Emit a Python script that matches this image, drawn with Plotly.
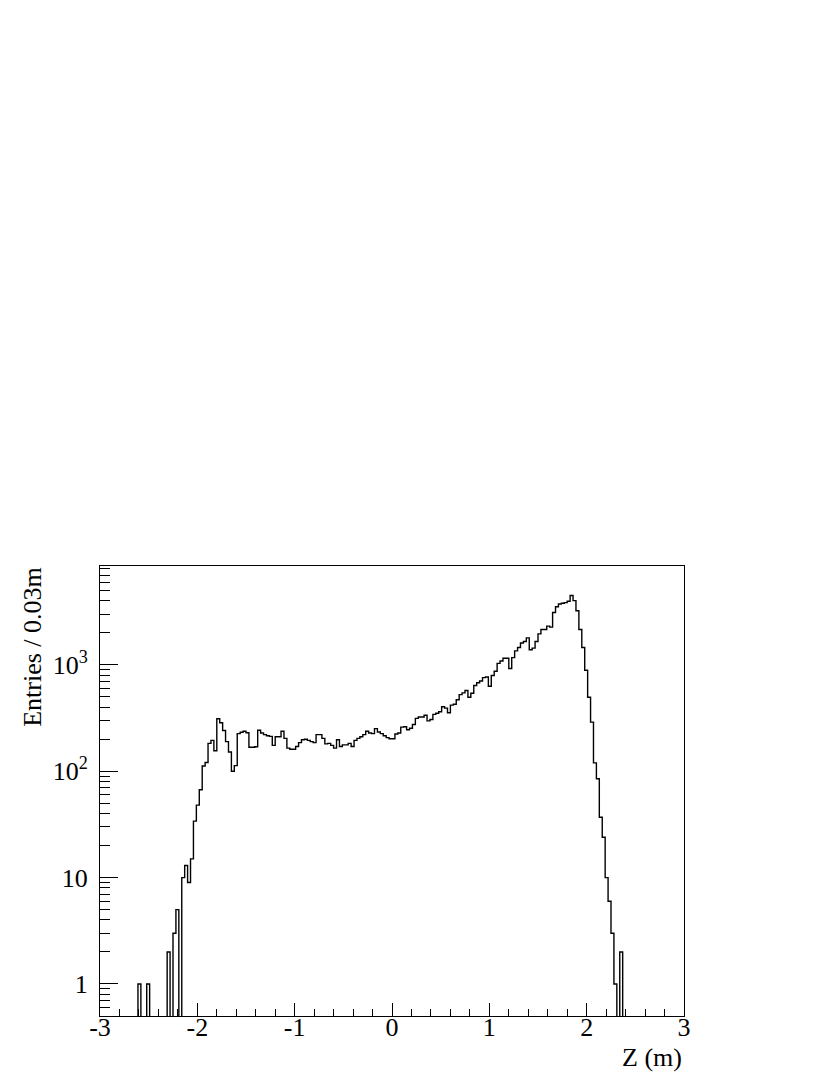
import plotly.graph_objects as go

# histogram binning: 200 bins of 0.03 m between -3 and 3
x_low = -3.0
bin_width = 0.03
n_bins = 200
first_bin = 13  # index of the first non-empty bin

# entries per bin (bins first_bin .. 178)
counts = [
    1, 0, 0, 1, 0, 0, 0, 0, 0, 0, 2, 0, 3, 5, 0, 10, 13, 9, 15, 34,
    48, 67, 112, 121, 183, 195, 156, 312, 286, 242, 190, 152, 100, 113, 226, 233,
    238, 230, 168, 168, 170, 243, 229, 221, 216, 213, 175, 211, 211, 238, 204, 165,
    161, 161, 171, 186, 198, 200, 195, 190, 186, 221, 221, 204, 181, 183, 175, 165,
    198, 171, 177, 177, 183, 171, 195, 204, 211, 221, 238, 229, 226, 252, 234, 226,
    216, 207, 202, 202, 224, 229, 260, 262, 246, 254, 275, 314, 324, 324, 336, 298,
    307, 343, 351, 363, 404, 392, 355, 419, 427, 471, 526, 546, 575, 496, 542, 641,
    680, 705, 759, 771, 631, 795, 871, 1033, 1088, 1154, 1154, 925, 1172, 1355, 1458, 1606,
    1660, 1795, 1387, 1438, 1660, 1958, 2155, 2155, 2317, 2268, 3110, 3523, 3740, 3794, 3848, 3963,
    4490, 4020, 3230, 2155, 1460, 892, 496, 290, 120, 85, 37, 24, 10, 6, 3, 1,
    0, 2,
]

x_tick_vals = [-3, -2, -1, 0, 1, 2, 3]
x_tick_text = ["-3", "-2", "-1", "0", "1", "2", "3"]
y_tick_vals = [1, 10, 100, 1000]
y_tick_text = ["1", "10", "10<sup>2</sup>", "10<sup>3</sup>"]

# full list of bin contents, empty bins pushed below the frame so the
# outline drops out of view like ROOT does on a log scale
contents = [0] * n_bins
for i, c in enumerate(counts):
    contents[first_bin + i] = c
floor = 1e-3
edges = [x_low + k * bin_width for k in range(n_bins + 1)]
step_x = edges
step_y = [c if c > 0 else floor for c in contents] + [contents[-1] if contents[-1] > 0 else floor]

font = "Liberation Serif"

fig = go.Figure()
fig.add_trace(
    go.Scatter(
        x=step_x,
        y=step_y,
        mode="lines",
        line=dict(color="black", width=1.4, shape="hv"),
        hoverinfo="skip",
        showlegend=False,
    )
)

fig.update_xaxes(
    range=[-3, 3],
    tickmode="array",
    tickvals=x_tick_vals,
    ticktext=x_tick_text,
    ticks="inside",
    ticklen=13,
    tickwidth=1,
    tickcolor="black",
    minor=dict(dtick=0.2, ticks="inside", ticklen=7, tickwidth=1, tickcolor="black"),
    showline=True,
    linecolor="black",
    linewidth=1,
    mirror=True,
    showgrid=False,
    zeroline=False,
    ticklabelstandoff=-12,
    tickfont=dict(family=font, size=26, color="black"),
)
fig.update_yaxes(
    type="log",
    range=[-0.301, 3.93],
    tickmode="array",
    tickvals=y_tick_vals,
    ticktext=y_tick_text,
    ticks="inside",
    ticklen=18,
    tickwidth=1,
    tickcolor="black",
    minor=dict(dtick="D1", ticks="inside", ticklen=10, tickwidth=1, tickcolor="black"),
    showline=True,
    linecolor="black",
    linewidth=1,
    mirror=True,
    showgrid=False,
    zeroline=False,
    ticklabelstandoff=6,
    tickfont=dict(family=font, size=26, color="black"),
)

fig.add_annotation(
    text="Entries / 0.03m",
    xref="paper", yref="paper",
    x=-0.116, y=0.821,
    xanchor="center", yanchor="middle",
    textangle=-90,
    showarrow=False,
    font=dict(family=font, size=26, color="black"),
)
fig.add_annotation(
    text="Z (m)",
    xref="paper", yref="paper",
    x=1.0, y=-0.093,
    xanchor="right", yanchor="middle",
    showarrow=False,
    font=dict(family=font, size=26, color="black"),
)

# page body has an 8 px margin, so the figure is shrunk by that much
fig.update_layout(
    width=822,
    height=1067,
    margin=dict(l=92, r=146, t=558, b=59),
    paper_bgcolor="white",
    plot_bgcolor="white",
)

fig.write_html("out.html")
